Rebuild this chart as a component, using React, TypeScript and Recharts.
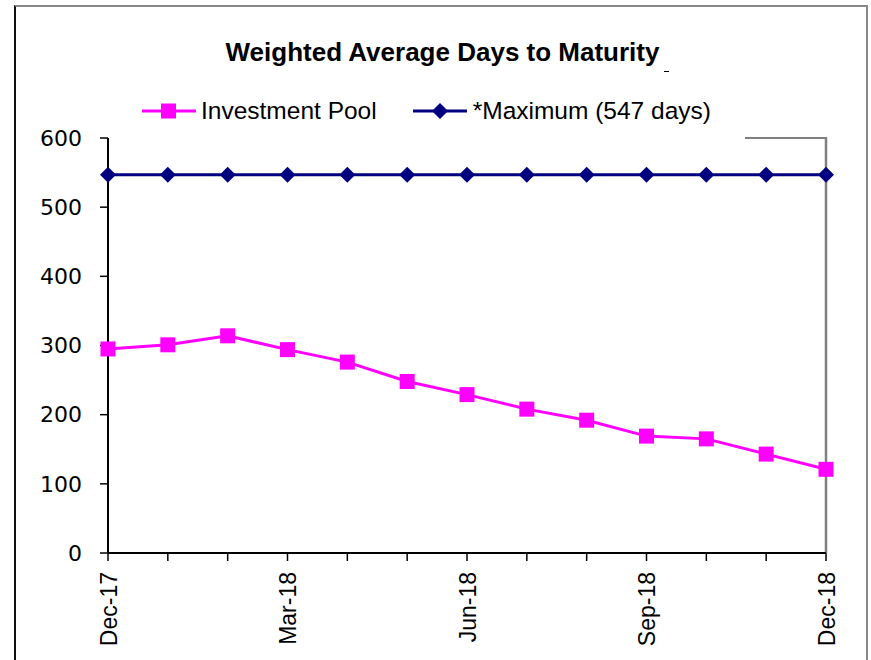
import { LineChart, Line, XAxis, YAxis, Legend, ReferenceLine } from "recharts";

const months = [
  "Dec-17", "Jan-18", "Feb-18", "Mar-18", "Apr-18", "May-18", "Jun-18",
  "Jul-18", "Aug-18", "Sep-18", "Oct-18", "Nov-18", "Dec-18",
];
const shownLabels = ["Dec-17", "Mar-18", "Jun-18", "Sep-18", "Dec-18"];
const investmentPool = [295, 301, 314, 294, 276, 248, 229, 208, 192, 169, 165, 143, 121];
const maximumDays = [547, 547, 547, 547, 547, 547, 547, 547, 547, 547, 547, 547, 547];
const yTicks = [0, 100, 200, 300, 400, 500, 600];

const PINK = "#FF00FF";
const NAVY = "#000080";

const data = months.map((month, i) => ({
  month,
  pool: investmentPool[i],
  max: maximumDays[i],
}));

function SquareDot(props: any) {
  const { cx, cy, index } = props;
  if (cx == null || cy == null) return <g key={`sq-${index}`} />;
  return <rect key={`sq-${index}`} x={cx - 7.5} y={cy - 7.5} width={15} height={15} fill={PINK} />;
}

function DiamondDot(props: any) {
  const { cx, cy, index } = props;
  if (cx == null || cy == null) return <g key={`dm-${index}`} />;
  const r = 8;
  return (
    <polygon
      key={`dm-${index}`}
      points={`${cx},${cy - r} ${cx + r},${cy} ${cx},${cy + r} ${cx - r},${cy}`}
      fill={NAVY}
    />
  );
}

function MonthTick(props: any) {
  const { x, y, payload } = props;
  if (!shownLabels.includes(payload.value)) return <g />;
  return (
    <text
      transform={`translate(${x + 8.5},${y + 9}) rotate(-90)`}
      textAnchor="end"
      fontFamily="'Liberation Sans', Arial, sans-serif"
      fontSize={23}
      fill="#000"
    >
      {payload.value}
    </text>
  );
}

function ChartLegend() {
  const textStyle = {
    fontFamily: "'Liberation Sans', Arial, sans-serif",
    fontSize: 24.5,
    lineHeight: "24px",
    color: "#000",
  };
  return (
    <div style={{ display: "flex", alignItems: "center", marginLeft: 142 }}>
      <svg width={54} height={24} style={{ display: "block" }}>
        <line x1={0} y1={12} x2={54} y2={12} stroke={PINK} strokeWidth={3} />
        <rect x={19} y={4.5} width={15} height={15} fill={PINK} />
      </svg>
      <span style={{ ...textStyle, marginLeft: 5 }}>Investment Pool</span>
      <svg width={54} height={24} style={{ display: "block", marginLeft: 36 }}>
        <line x1={0} y1={12} x2={54} y2={12} stroke={NAVY} strokeWidth={3} />
        <polygon points="27,4 35,12 27,20 19,12" fill={NAVY} />
      </svg>
      <span style={{ ...textStyle, marginLeft: 6 }}>*Maximum (547 days)</span>
    </div>
  );
}

export default function App() {
  return (
    <div
      style={{
        position: "absolute",
        left: 0,
        top: 0,
        width: 871,
        height: 660,
        overflow: "hidden",
        background: "#fff",
      }}
    >
      <div
        style={{
          position: "absolute",
          left: 14,
          top: 5,
          width: 850,
          height: 720,
          borderTop: "2px solid #888",
          borderLeft: "2px solid #111",
          borderRight: "2px solid #888",
        }}
      />
      <div
        style={{
          position: "absolute",
          left: 7,
          top: 37,
          width: 871,
          textAlign: "center",
          fontFamily: "'Liberation Sans', Arial, sans-serif",
          fontWeight: "bold",
          fontSize: 26,
          lineHeight: "30px",
        }}
      >
        Weighted Average Days to Maturity
      </div>
      <div style={{ position: "absolute", left: 664, top: 71, width: 5, height: 1, background: "#000" }} />
      <div style={{ position: "absolute", left: 745, top: 137, width: 82, height: 2, background: "#808080" }} />
      <div style={{ position: "absolute", left: 0, top: 0 }}>
        <LineChart
          width={871}
          height={660}
          data={data}
          margin={{ top: 138, right: 45, bottom: 0, left: 0 }}
        >
          <XAxis
            dataKey="month"
            type="category"
            interval={0}
            height={107}
            padding={{ left: 0, right: 0 }}
            tickSize={8}
            tick={<MonthTick />}
            axisLine={{ stroke: "#000", strokeWidth: 2 }}
            tickLine={{ stroke: "#000", strokeWidth: 1.5 }}
          />
          <YAxis
            width={108}
            domain={[0, 600]}
            ticks={yTicks}
            interval={0}
            tickSize={8}
            tickMargin={18}
            tick={{ fill: "#000", fontSize: 22, fontFamily: "'DejaVu Sans', Verdana, sans-serif" }}
            axisLine={{ stroke: "#000", strokeWidth: 2 }}
            tickLine={{ stroke: "#000", strokeWidth: 1.5 }}
          />
          <ReferenceLine x="Dec-18" stroke="#808080" strokeWidth={2.5} ifOverflow="visible" />
          <Legend
            layout="horizontal"
            verticalAlign="middle"
            align="center"
            wrapperStyle={{ top: 99, left: 0, width: 871 }}
            content={<ChartLegend />}
          />
          <Line
            dataKey="max"
            stroke={NAVY}
            strokeWidth={3}
            dot={DiamondDot}
            activeDot={false}
            isAnimationActive={false}
          />
          <Line
            dataKey="pool"
            stroke={PINK}
            strokeWidth={3}
            dot={SquareDot}
            activeDot={false}
            isAnimationActive={false}
          />
        </LineChart>
      </div>
    </div>
  );
}
